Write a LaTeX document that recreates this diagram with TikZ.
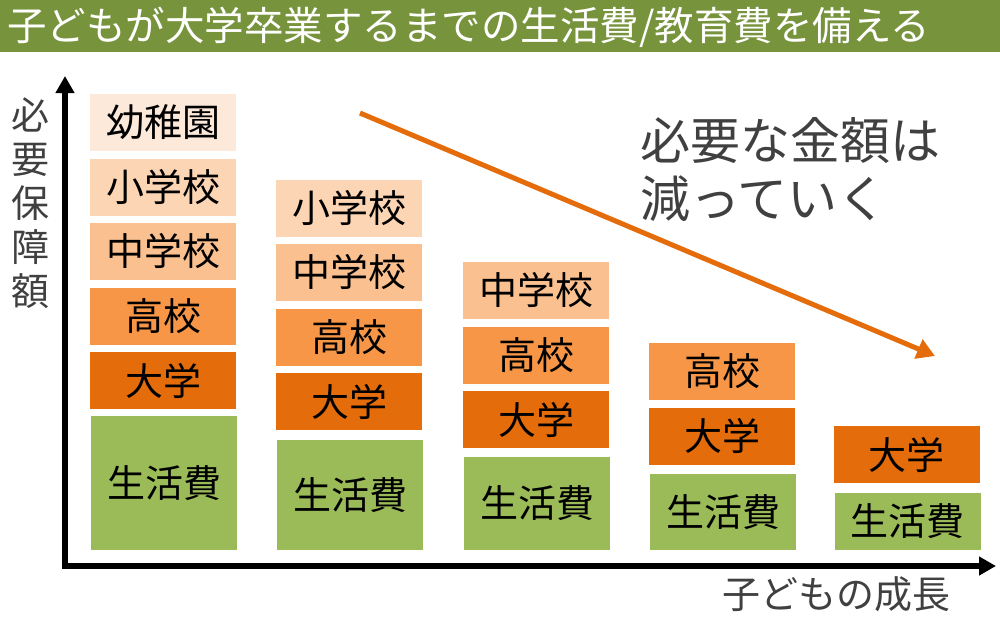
\documentclass[tikz,border=0pt]{standalone}
\usepackage{fontspec}
\setmainfont{Noto Sans CJK JP}
\definecolor{TitleGreen}{HTML}{77933C}
\definecolor{LifeGreen}{HTML}{9BBB59}
\definecolor{Lv1}{HTML}{FDE9D9}
\definecolor{Lv2}{HTML}{FCD5B4}
\definecolor{Lv3}{HTML}{FAC090}
\definecolor{Lv4}{HTML}{F79646}
\definecolor{Lv5}{HTML}{E46C0A}
\definecolor{TextGray}{HTML}{404040}
\usetikzlibrary{arrows.meta, positioning}

\begin{document}
\begin{tikzpicture}[x=1pt,y=-1pt,
	box/.style={minimum width=146pt,minimum height=57pt,inner sep=0pt,
		font=\fontsize{38}{40}\selectfont},
	axis/.style={line width=6pt,{Triangle[length=17pt,width=18pt]}-{Triangle[length=17pt,width=18pt]}},
	trend/.style={Lv5,line width=5pt,-{Triangle[length=18pt,width=20pt]}},
	label/.style={text=TextGray,inner sep=0pt}]
\useasboundingbox (0,0) rectangle (1000,625);
\fill[TitleGreen] (0,0) rectangle (1000,52);
\node[anchor=west,text=white,inner sep=0pt,font=\fontsize{39.5}{41}\selectfont] (title) at (7,27)
	{子どもが大学卒業するまでの生活費/教育費を備える};
% axes
\coordinate (Ytop) at (65,76);
\coordinate (Xend) at (996,566);
\draw[axis] (Ytop) |- (Xend);
\node[label,align=center,font=\fontsize{38}{44}\selectfont] (ylab) at (30,203) {必\\要\\保\\障\\額};
\node[label,anchor=west,font=\fontsize{38}{40}\selectfont] (xlab) at (722,594) {子どもの成長};
% columns of boxes
\foreach \c/\x/\y/\h in {1/163/380.5/134,2/349/401.5/110,3/536/419.5/93,4/722/436/76,5/906.5/454.5/57}{
	\foreach \l/\t in {1/幼稚園,2/小学校,3/中学校,4/高校,5/大学}{
		\ifnum\l<\c\else\node[box,fill=Lv\l] (B\c-\l) at (\x,{\y-(5-\l)*64.5}){\t};\fi}
	\node[box,fill=LifeGreen,minimum height=\h,anchor=south] (S\c) at (\x+1,550){生活費};
}
% trend
\coordinate (T1) at (360,113);
\coordinate (T2) at (935,356);
\draw[trend] (T1) -- (T2);
\node[label,anchor=north west,align=left,font=\fontsize{50}{58}\selectfont] (note) at (640,117)
	{必要な金額は\\減っていく};
\end{tikzpicture}
\end{document}
